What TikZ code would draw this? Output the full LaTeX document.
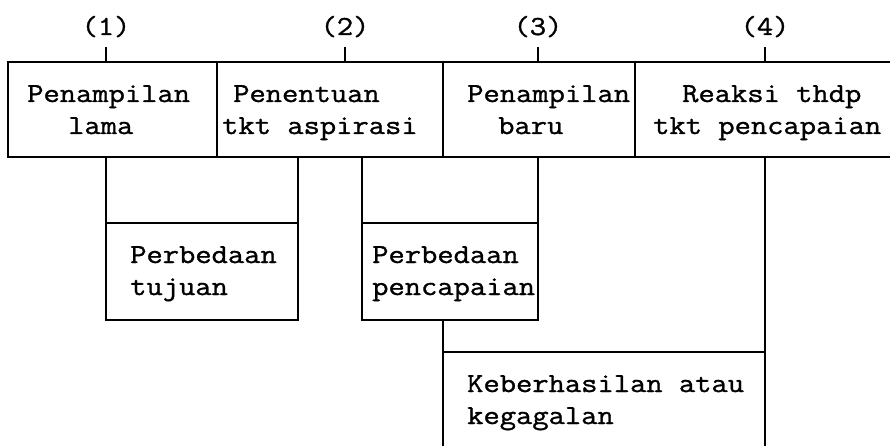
\documentclass[tikz,border=0pt]{standalone}
\usepackage{fontspec}
\setmonofont{Latin Modern Mono}[FakeStretch=1.15, FakeBold=1.2]
\begin{document}
\begin{tikzpicture}[x=1pt, y=-1pt,
  wire/.style={line width=1.6pt, line cap=rect},
  box/.style={draw, line width=1.6pt, inner sep=0pt, outer sep=0pt, anchor=north west},
  txt/.style={font=\ttfamily\fontsize{27.5}{33}\selectfont, inner sep=0pt, anchor=base west},
  num/.style={font=\ttfamily\fontsize{27.5}{33}\selectfont, inner sep=0pt, anchor=base}]
\useasboundingbox (0,0) rectangle (890,446);
\clip (0,0) rectangle (890,446);

% upper row of stages
\node[box, minimum width=209pt, minimum height=95pt] (b1) at (8,62) {};
\node[box, minimum width=226pt, minimum height=95pt] (b2) at (217,62) {};
\node[box, minimum width=192pt, minimum height=95pt] (b3) at (443,62) {};
\node[box, minimum width=280pt, minimum height=95pt] (b4) at (635,62) {};

\node[txt] (b1a) at (27,102) {Penampilan};
\node[txt] (b1b) at (68,134) {lama};
\node[txt] (b2a) at (233,102) {Penentuan};
\node[txt] (b2b) at (222,134) {tkt aspirasi};
\node[txt] (b3a) at (467,102) {Penampilan};
\node[txt] (b3b) at (498,134) {baru};
\node[txt] (b4a) at (682,102) {Reaksi thdp};
\node[txt] (b4b) at (653,134) {tkt pencapaian};

% stage numbers with their ticks
\node[num] (n1) at (106,35) {(1)};
\node[num] (n2) at (345,35) {(2)};
\node[num] (n3) at (538,35) {(3)};
\node[num] (n4) at (765,35) {(4)};
\foreach \n/\b in {n1/b1, n2/b2, n3/b3, n4/b4}
  \draw[wire] ([yshift=-13pt]\n.base) -- (\n.base |- \b.north);

% differences
\node[box, minimum width=192pt, minimum height=97pt] (d1) at (106,223) {};
\node[box, minimum width=176pt, minimum height=97pt] (d2) at (362,223) {};
\node[txt] (d1a) at (130,263) {Perbedaan};
\node[txt] (d1b) at (130,295) {tujuan};
\node[txt] (d2a) at (372,263) {Perbedaan};
\node[txt] (d2b) at (372,295) {pencapaian};

% outcome
\node[box, minimum width=322pt, minimum height=130pt] (k) at (443,352) {};
\node[txt] (ka) at (467,392) {Keberhasilan atau};
\node[txt] (kb) at (467,424) {kegagalan};

% connectors
\draw[wire] (d1.north west) -- (d1.north west |- b1.south);
\draw[wire] (d1.north east) -- (d1.north east |- b2.south);
\draw[wire] (d2.north west) -- (d2.north west |- b2.south);
\draw[wire] (d2.north east) -- (d2.north east |- b3.south);
\draw[wire] (k.north west) -- (k.north west |- d2.south);
\draw[wire] (k.north east) -- (k.north east |- b4.south);
\end{tikzpicture}
\end{document}
